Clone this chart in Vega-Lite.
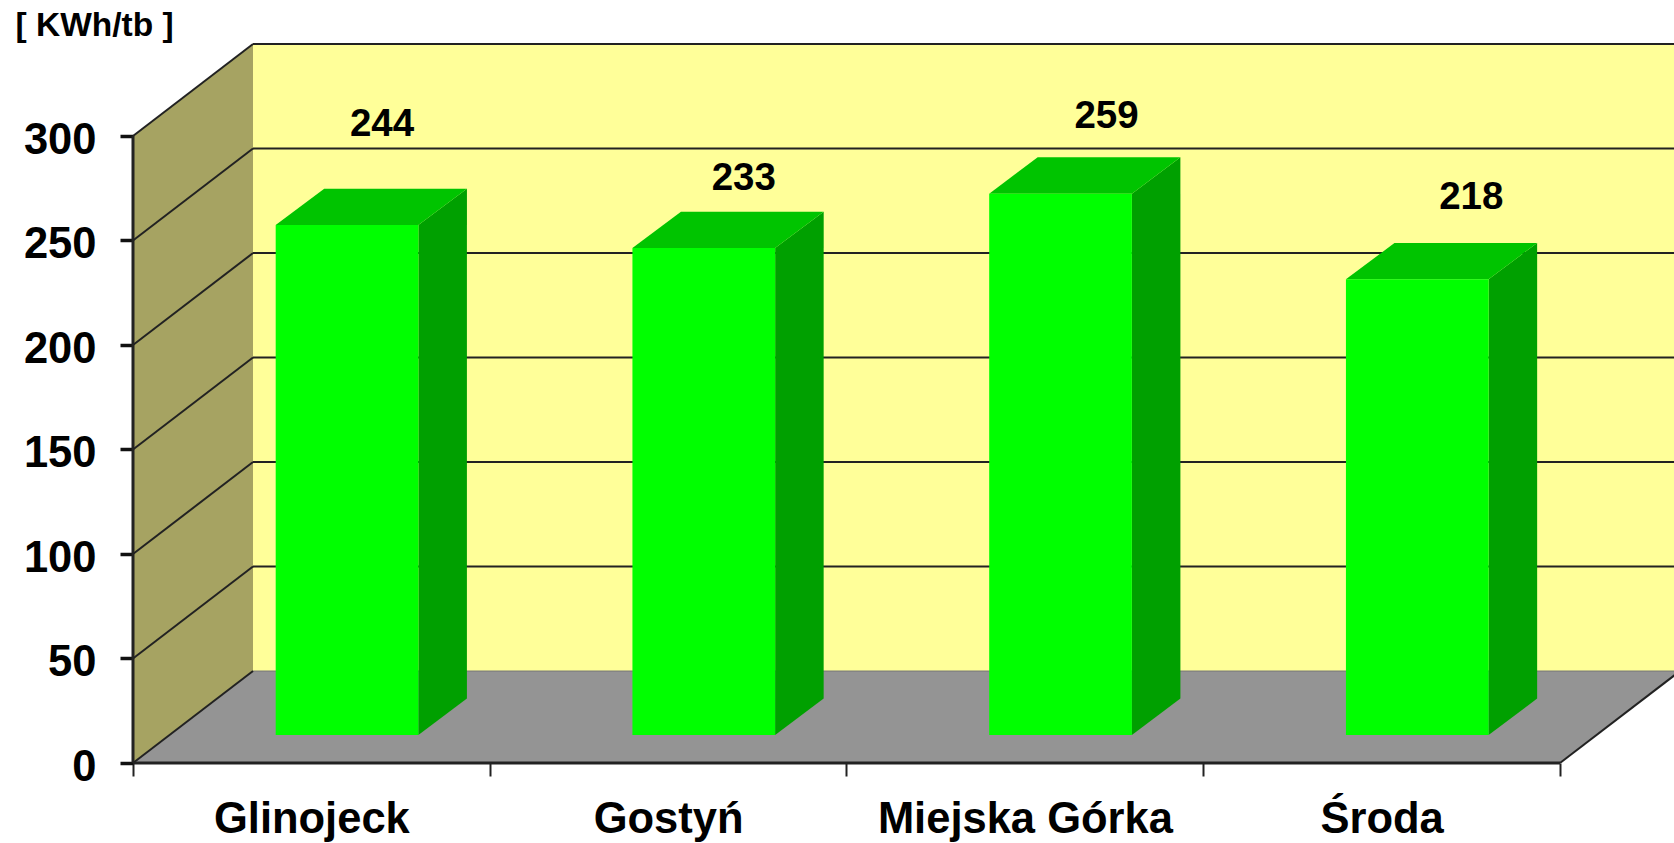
{
"$schema":"https://vega.github.io/schema/vega-lite/v6.json",
"width":1674,"height":843,"autosize":{"type":"none"},"padding":0,"background":"white",
"config":{"view":{"stroke":null},"font":"Liberation Sans"},
"data":{"values":[{"frame":"chart"}]},
"datasets":{
"bars":[{"category":"Glinojeck","slot":0,"value":244},{"category":"Gostyń","slot":1,"value":233},{"category":"Miejska Górka","slot":2,"value":259},{"category":"Środa","slot":3,"value":218}],
"levels":[{"level":0},{"level":50},{"level":100},{"level":150},{"level":200},{"level":250},{"level":300}],
"corners":[{"t":0},{"t":1},{"t":2},{"t":3}]
},
"layer":[
{"mark":{"type":"rect","fill":"#ffff99","clip":true},"encoding":{
"x":{"datum":0.3364,"type":"quantitative","scale":{"domain":[-0.3728,4.3196],"nice":false,"zero":false},
 "axis":{"orient":"bottom","offset":-80,"domain":false,"grid":false,"title":null,"values":[0,0.5,1,1.5,2,2.5,3,3.5,4],"tickSize":13,"tickWidth":2,"tickColor":"#222222","tickOpacity":{"condition":{"test":"datum.value % 1 != 0","value":0},"value":1},"labelExpr":"datum.value==0.5?'Glinojeck':datum.value==1.5?'Gostyń':datum.value==2.5?'Miejska Górka':datum.value==3.5?'Środa':''","labelFont":"Liberation Sans","labelFontWeight":"bold","labelFontSize":43.5,"labelColor":"black","labelPadding":22,"labelLimit":800,"labelOverlap":false,"labelFlush":false,"labelBound":false}},
"x2":{"datum":4.5},
"y":{"datum":44,"type":"quantitative","scale":{"domain":[-38.28,365.07],"nice":false,"zero":false},
 "axis":{"orient":"left","offset":-133,"domain":false,"grid":false,"title":"[ KWh/tb ]","titleAngle":0,"titleAlign":"left","titleBaseline":"middle","titleX":-118,"titleY":25,"titleFont":"Liberation Sans","titleFontWeight":"bold","titleFontSize":33.5,"titleColor":"black","values":[0,50,100,150,200,250,300],"tickSize":13,"tickWidth":3.5,"tickColor":"#111111","labelFont":"Liberation Sans","labelFontWeight":"bold","labelFontSize":43.5,"labelColor":"black","labelPadding":24,"labelOffset":4.5,"labelOverlap":false,"labelBound":false}},
"y2":{"datum":344}}},
{"data":{"name":"corners"},"transform":[{"calculate":"[0,0.3364,4,4.3364][datum.t]","as":"px"},{"calculate":"[0,0,0,44][datum.t]","as":"lo"},{"calculate":"[0,44,44,44][datum.t]","as":"hi"}],
 "mark":{"type":"area","fill":"#949494","clip":true},"encoding":{"x":{"field":"px","type":"quantitative"},"y":{"field":"lo","type":"quantitative"},"y2":{"field":"hi"}}},
{"data":{"name":"corners"},"transform":[{"filter":"datum.t<2"},{"calculate":"datum.t*0.3364","as":"px"},{"calculate":"datum.t*44","as":"lo"},{"calculate":"300+datum.t*44","as":"hi"}],
 "mark":{"type":"area","fill":"#a6a362"},"encoding":{"x":{"field":"px","type":"quantitative"},"y":{"field":"lo","type":"quantitative"},"y2":{"field":"hi"}}},
{"data":{"name":"levels"},"transform":[{"filter":"datum.level>0"},{"calculate":"datum.level+44","as":"back"}],
 "mark":{"type":"rule","stroke":"#222222","strokeWidth":2,"clip":true},"encoding":{"x":{"datum":0.3364,"type":"quantitative"},"x2":{"datum":4.5},"y":{"field":"back","type":"quantitative"}}},
{"data":{"name":"levels"},"transform":[{"filter":"datum.level==0"},{"calculate":"datum.level+44","as":"back"}],
 "mark":{"type":"rule","stroke":"#777777","strokeWidth":1,"clip":true},"encoding":{"x":{"datum":0.3364,"type":"quantitative"},"x2":{"datum":4.5},"y":{"field":"back","type":"quantitative"}}},
{"data":{"name":"levels"},"transform":[{"calculate":"datum.level+44","as":"back"}],
 "mark":{"type":"rule","stroke":"#222222","strokeWidth":2},"encoding":{"x":{"datum":0,"type":"quantitative"},"x2":{"datum":0.3364},"y":{"field":"level","type":"quantitative"},"y2":{"field":"back"}}},
{"mark":{"type":"rule","stroke":"#222222","strokeWidth":3},"encoding":{"x":{"datum":0,"type":"quantitative"},"y":{"datum":0,"type":"quantitative"},"y2":{"datum":300}}},
{"mark":{"type":"rule","stroke":"#222222","strokeWidth":3},"encoding":{"x":{"datum":0,"type":"quantitative"},"x2":{"datum":4},"y":{"datum":0,"type":"quantitative"}}},
{"mark":{"type":"rule","stroke":"#222222","strokeWidth":2,"clip":true},"encoding":{"x":{"datum":4,"type":"quantitative"},"x2":{"datum":4.3364},"y":{"datum":0,"type":"quantitative"},"y2":{"datum":44}}},
{"data":{"name":"bars"},"transform":[{"calculate":"datum.slot+0.8","as":"x1"},{"calculate":"[0,1]","as":"t"},{"flatten":["t"]},{"calculate":"datum.x1+datum.t*0.136","as":"px"},{"calculate":"13.4+datum.t*17.4","as":"lo"},{"calculate":"13.4+datum.value+datum.t*17.4","as":"hi"}],
 "mark":{"type":"area","fill":"#00a000"},"encoding":{"detail":{"field":"category"},"x":{"field":"px","type":"quantitative"},"y":{"field":"lo","type":"quantitative"},"y2":{"field":"hi"}}},
{"data":{"name":"bars"},"transform":[{"calculate":"datum.slot+0.4","as":"x0"},{"calculate":"datum.slot+0.8","as":"x1"},{"calculate":"13.4+datum.value","as":"top"},{"calculate":"[0,1,2,3]","as":"t"},{"flatten":["t"]},{"calculate":"[datum.x0,datum.x0+0.136,datum.x1,datum.x1+0.136][datum.t]","as":"px"},{"calculate":"[datum.top,datum.top,datum.top,datum.top+17.4][datum.t]","as":"lo"},{"calculate":"[datum.top,datum.top+17.4,datum.top+17.4,datum.top+17.4][datum.t]","as":"hi"}],
 "mark":{"type":"area","fill":"#00c400"},"encoding":{"detail":{"field":"category"},"x":{"field":"px","type":"quantitative"},"y":{"field":"lo","type":"quantitative"},"y2":{"field":"hi"}}},
{"data":{"name":"bars"},"transform":[{"calculate":"datum.slot+0.4","as":"x0"},{"calculate":"datum.slot+0.8","as":"x1"},{"calculate":"13.4","as":"lo"},{"calculate":"13.4+datum.value","as":"top"}],
 "mark":{"type":"rect","fill":"#00ff00"},"encoding":{"x":{"field":"x0","type":"quantitative"},"x2":{"field":"x1"},"y":{"field":"lo","type":"quantitative"},"y2":{"field":"top"}}},
{"data":{"name":"bars"},"transform":[{"filter":"datum.slot==0"},{"calculate":"datum.slot+0.6","as":"cx"},{"calculate":"13.4+datum.value","as":"top"}],
 "mark":{"type":"text","font":"Liberation Sans","fontWeight":"bold","fontSize":38.5,"fill":"black","dx":35,"dy":-101,"baseline":"middle"},"encoding":{"x":{"field":"cx","type":"quantitative"},"y":{"field":"top","type":"quantitative"},"text":{"field":"value","type":"quantitative"}}},
{"data":{"name":"bars"},"transform":[{"filter":"datum.slot==1"},{"calculate":"datum.slot+0.6","as":"cx"},{"calculate":"13.4+datum.value","as":"top"}],
 "mark":{"type":"text","font":"Liberation Sans","fontWeight":"bold","fontSize":38.5,"fill":"black","dx":40,"dy":-70,"baseline":"middle"},"encoding":{"x":{"field":"cx","type":"quantitative"},"y":{"field":"top","type":"quantitative"},"text":{"field":"value","type":"quantitative"}}},
{"data":{"name":"bars"},"transform":[{"filter":"datum.slot==2"},{"calculate":"datum.slot+0.6","as":"cx"},{"calculate":"13.4+datum.value","as":"top"}],
 "mark":{"type":"text","font":"Liberation Sans","fontWeight":"bold","fontSize":38.5,"fill":"black","dx":46,"dy":-78,"baseline":"middle"},"encoding":{"x":{"field":"cx","type":"quantitative"},"y":{"field":"top","type":"quantitative"},"text":{"field":"value","type":"quantitative"}}},
{"data":{"name":"bars"},"transform":[{"filter":"datum.slot==3"},{"calculate":"datum.slot+0.6","as":"cx"},{"calculate":"13.4+datum.value","as":"top"}],
 "mark":{"type":"text","font":"Liberation Sans","fontWeight":"bold","fontSize":38.5,"fill":"black","dx":54,"dy":-82,"baseline":"middle"},"encoding":{"x":{"field":"cx","type":"quantitative"},"y":{"field":"top","type":"quantitative"},"text":{"field":"value","type":"quantitative"}}}
]
}
